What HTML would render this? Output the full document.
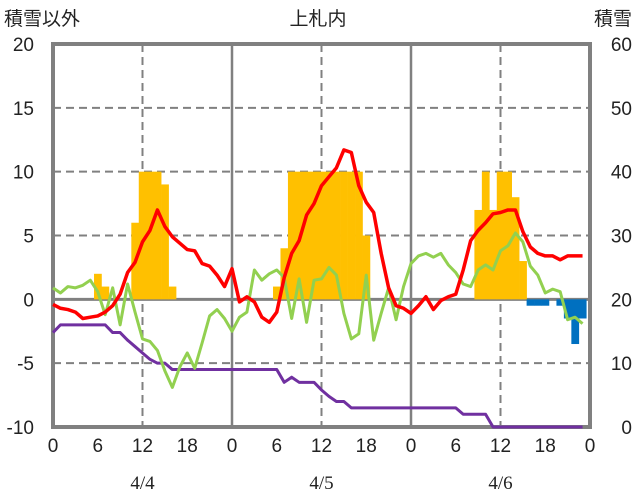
<!DOCTYPE html>
<html><head><meta charset="utf-8">
<style>
body{margin:0;background:#fff;}
svg{display:block;font-family:"Liberation Sans","Noto Sans CJK JP",sans-serif;}
</style></head>
<body>
<svg id="chart" width="636" height="501" viewBox="0 0 636 501" xmlns="http://www.w3.org/2000/svg">
<g id="grid"></g>
<g id="bars"></g>
<g id="frame"></g>
<g id="lines"></g>
<g id="labels"></g>
<text x="4" y="25" font-size="19" fill="#222">積雪以外</text>
<text x="318" y="25" font-size="19" fill="#222" text-anchor="middle">上札内</text>
<text x="632" y="25" font-size="19" fill="#222" text-anchor="end">積雪</text>
</svg>
<script>
const leftTicks=[20,15,10,5,0,-5,-10];
const rightTicks=[60,50,40,30,20,10,0];
const hourTicks=["0","6","12","18","0","6","12","18","0","6","12","18","0"];
const dateLabels=["4/4","4/5","4/6"];
const barHours=[6,7,11,12,13,14,15,16,30,31,32,33,34,35,36,37,38,39,40,41,42,57,58,59,60,61,62,63,64,65,66,68,69,70,71];
const barValues=[2,1,6,10,10,10,9,1,1,4,10,10,10,10,10,10,10,10,10,10,5,7,10,7,10,10,8,3,-0.5,-0.5,-0.5,-0.5,-1.5,-3.5,-1.5];
const redSeries=[-0.4,-0.7,-0.8,-1.0,-1.5,-1.4,-1.3,-1.0,-0.5,0.4,2.1,2.9,4.5,5.4,7.0,5.7,4.9,4.4,3.9,3.8,2.8,2.6,1.9,1.0,2.4,-0.2,0.2,-0.2,-1.4,-1.8,-1.0,1.7,3.6,4.6,6.6,7.5,8.9,9.6,10.3,11.7,11.5,8.9,7.6,6.8,3.6,0.9,-0.5,-0.7,-1.1,-0.5,0.2,-0.8,-0.1,0.2,0.4,2.3,4.6,5.4,6.0,6.7,6.8,7.0,7.0,5.3,4.1,3.6,3.4,3.4,3.1,3.4,3.4,3.4];
const greenSeries=[0.9,0.5,1.0,0.9,1.1,1.5,0.6,-1.2,0.9,-2.0,1.2,-1.0,-3.1,-3.3,-4.0,-5.6,-6.9,-5.3,-4.2,-5.4,-3.4,-1.3,-0.8,-1.5,-2.5,-1.4,-1.0,2.3,1.5,2.0,2.3,1.7,-1.5,1.6,-1.8,1.5,1.6,2.5,1.9,-1.1,-3.1,-2.7,1.9,-3.2,-1.1,0.9,-1.6,1.0,2.8,3.4,3.6,3.3,3.6,2.7,2.1,1.2,1.0,2.3,2.7,2.3,3.8,4.2,5.2,4.5,2.6,1.9,0.5,0.8,0.6,-1.6,-1.4,-1.9];
const purpleSeries=[-2.6,-2.0,-2.0,-2.0,-2.0,-2.0,-2.0,-2.0,-2.6,-2.6,-3.2,-3.7,-4.2,-4.7,-5.0,-5.0,-5.5,-5.5,-5.5,-5.5,-5.5,-5.5,-5.5,-5.5,-5.5,-5.5,-5.5,-5.5,-5.5,-5.5,-5.5,-6.5,-6.1,-6.5,-6.5,-6.5,-7.1,-7.6,-8.0,-8.0,-8.5,-8.5,-8.5,-8.5,-8.5,-8.5,-8.5,-8.5,-8.5,-8.5,-8.5,-8.5,-8.5,-8.5,-8.5,-9.0,-9.0,-9.0,-9.0,-10,-10,-10,-10,-10,-10,-10,-10,-10,-10,-10,-10,-10];

const NS='http://www.w3.org/2000/svg';
const X0=53,X1=590,Y0=44,Y1=427;
const xs=h=>X0+(X1-X0)*h/72;
const ys=v=>Y1-(Y1-Y0)*(v+10)/30;
const yr=v=>Y1-(Y1-Y0)*v/60;
function mk(tag,attrs,parent){const e=document.createElementNS(NS,tag);for(const k in attrs)e.setAttribute(k,attrs[k]);parent.appendChild(e);return e;}
const grid=document.getElementById('grid');
leftTicks.forEach(v=>{if(v===20||v===-10||v===0)return;
 const l=mk('line',{x1:X0,x2:X1,y1:ys(v),y2:ys(v),stroke:'#808080','stroke-width':2,'stroke-dasharray':'8,5'},grid);
 
 });
[12,36,60].forEach(h=>{const l=mk('line',{x1:xs(h),x2:xs(h),y1:Y0,y2:Y1,stroke:'#808080','stroke-width':2,'stroke-dasharray':'8,5'},grid);
 
 });
[24,48].forEach(h=>{const l=mk('line',{x1:xs(h),x2:xs(h),y1:Y0,y2:Y1,stroke:'#808080','stroke-width':2.5},grid);
 
 });
const bars=document.getElementById('bars');
const bw=(X1-X0)/72;
barHours.forEach((h,i)=>{const v=barValues[i];const y0=ys(0),y1=ys(v);
 const r=mk('rect',{x:xs(h)-bw/2,y:Math.min(y0,y1),width:bw+0.3,height:Math.abs(y1-y0),fill:v>=0?'#FFC000':'#0070C0'},bars);
 
 });
const zl=mk('line',{x1:X0,x2:X1,y1:ys(0),y2:ys(0),stroke:'#808080','stroke-width':3},grid);


const fr=mk('rect',{x:X0,y:Y0,width:X1-X0,height:Y1-Y0,fill:'none',stroke:'#808080','stroke-width':4},document.getElementById('frame'));


const lines=document.getElementById('lines');
function series(arr,color,name){const p=mk('polyline',{points:arr.map((v,i)=>xs(i)+','+ys(v)).join(' '),fill:'none',stroke:color,'stroke-width':name==='temperature-line'?3.5:3,'stroke-linejoin':'round'},lines);
 
 }
series(purpleSeries,'#7030A0','purple-line');
series(greenSeries,'#92D050','green-line');
series(redSeries,'#FF0000','temperature-line');
const lab=document.getElementById('labels');
leftTicks.forEach(v=>{const t=mk('text',{x:34,y:ys(v)+7,'font-size':19,'text-anchor':'end',fill:'#222'},lab);t.textContent=v;
 
 });
rightTicks.forEach(v=>{const t=mk('text',{x:632,y:yr(v)+7,'font-size':19,'text-anchor':'end',fill:'#222'},lab);t.textContent=v;
 
 });
hourTicks.forEach((s,i)=>{const t=mk('text',{x:xs(i*6),y:452,'font-size':19,'text-anchor':'middle',fill:'#222'},lab);t.textContent=s;
 
 });
dateLabels.forEach((s,i)=>{const t=mk('text',{x:xs(12+24*i),y:489,'font-size':19,'text-anchor':'middle',fill:'#222','font-family':'"Liberation Serif",serif'},lab);t.textContent=s;
 
 });
</script>
</body></html>
